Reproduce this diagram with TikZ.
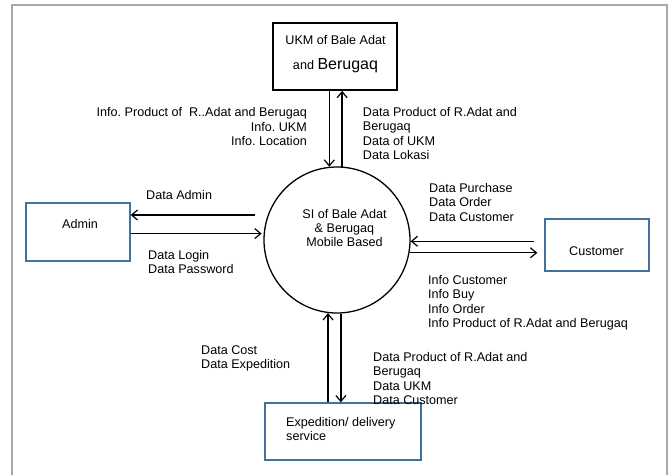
\documentclass[tikz,border=0pt]{standalone}
\usepackage{fontspec}
\setmainfont{Liberation Sans}
\usetikzlibrary{arrows.meta}
\definecolor{boxblue}{RGB}{65,113,156}
\definecolor{framegray}{RGB}{168,168,168}
\frenchspacing
\begin{document}
\begin{tikzpicture}[x=1pt,y=-1pt,
  txt/.style={inner sep=0pt,font=\fontsize{12.6}{14.4}\selectfont},
  lbl/.style={txt,align=left,anchor=north west},
  arr/.style={line width=1.3pt,-{Straight Barb[length=6pt,width=10pt,line width=1.2pt]}},
  blackbox/.style={draw=black,line width=1.6pt,inner sep=0pt},
  bluebox/.style={draw=boxblue,line width=1.3pt,inner sep=0pt}]
\useasboundingbox (0,0) rectangle (672,475);
\fill[white] (0,0) rectangle (672,475);
\draw[framegray,line width=1.5pt] (12,475) -- (12,5) -- (667,5) -- (667,475);

% process
\node[circle,draw,line width=1.3pt,minimum size=146pt,inner sep=0pt] (sys) at (337,240) {};
\node[txt,align=center] (systxt) at (344.5,228) {SI of Bale Adat\\\& Berugaq\\Mobile Based};

% entities
\node[blackbox,minimum width=124pt,minimum height=67pt] (ukm) at (335,56.5) {};
\node[txt,anchor=base] (ukmtxta) at (335.5,44) {UKM of Bale Adat};
\node[txt,anchor=base] (ukmtxtb) at (335.5,69) {and {\fontsize{16}{18}\selectfont Berugaq}};

\node[bluebox,minimum width=104pt,minimum height=58pt] (admin) at (78,232) {};
\node[txt,anchor=base] (admintxt) at (80,228.3) {Admin};

\node[bluebox,minimum width=104pt,minimum height=52pt] (cust) at (597,245) {};
\node[txt,anchor=base] (custtxt) at (596.5,255) {Customer};

\node[bluebox,minimum width=156pt,minimum height=57pt] (exp) at (343,431.5) {};
\node[lbl] (exptxt) at (286,417) {Expedition/ delivery\\service};

% flows
\draw[arr] (sys.96 |- ukm.south) -- (sys.96);
\draw[arr] (sys.86) -- (sys.86 |- ukm.south);

\coordinate (daS) at (255,215);
\draw[arr] (daS) -- (daS -| admin.east);
\draw[arr,shorten >=2pt] (sys.175 -| admin.east) -- (sys.175);

\draw[arr,shorten <=10pt] (sys.-1 -| cust.west) -- (sys.-1);
\draw[arr,shorten >=7pt] (sys.-10) -- (sys.-10 -| cust.west);

\draw[arr] (sys.-97 |- exp.north) -- (sys.-97);
\draw[arr] (sys.-87) -- (sys.-87 |- exp.north);

% labels
\node[txt,anchor=north east,align=right] (l1) at (307,107.5) {Info. Product of\ \ R..Adat and Berugaq\\Info. UKM\\Info. Location};
\node[lbl] (l2) at (362.7,107) {Data Product of R.Adat and\\Berugaq\\Data of UKM\\Data Lokasi};
\node[lbl] (l3) at (146,190) {Data Admin};
\node[lbl] (l4) at (148,250) {Data Login\\Data Password};
\node[lbl] (l5) at (429,183) {Data Purchase\\Data Order\\Data Customer};
\node[lbl] (l6) at (428,275) {Info Customer\\Info Buy\\Info Order\\Info Product of R.Adat and Berugaq};
\node[lbl] (l7) at (201,345) {Data Cost\\Data Expedition};
\node[lbl] (l8) at (373,352) {Data Product of R.Adat and\\Berugaq\\Data UKM\\Data Customer};
\end{tikzpicture}
\end{document}
